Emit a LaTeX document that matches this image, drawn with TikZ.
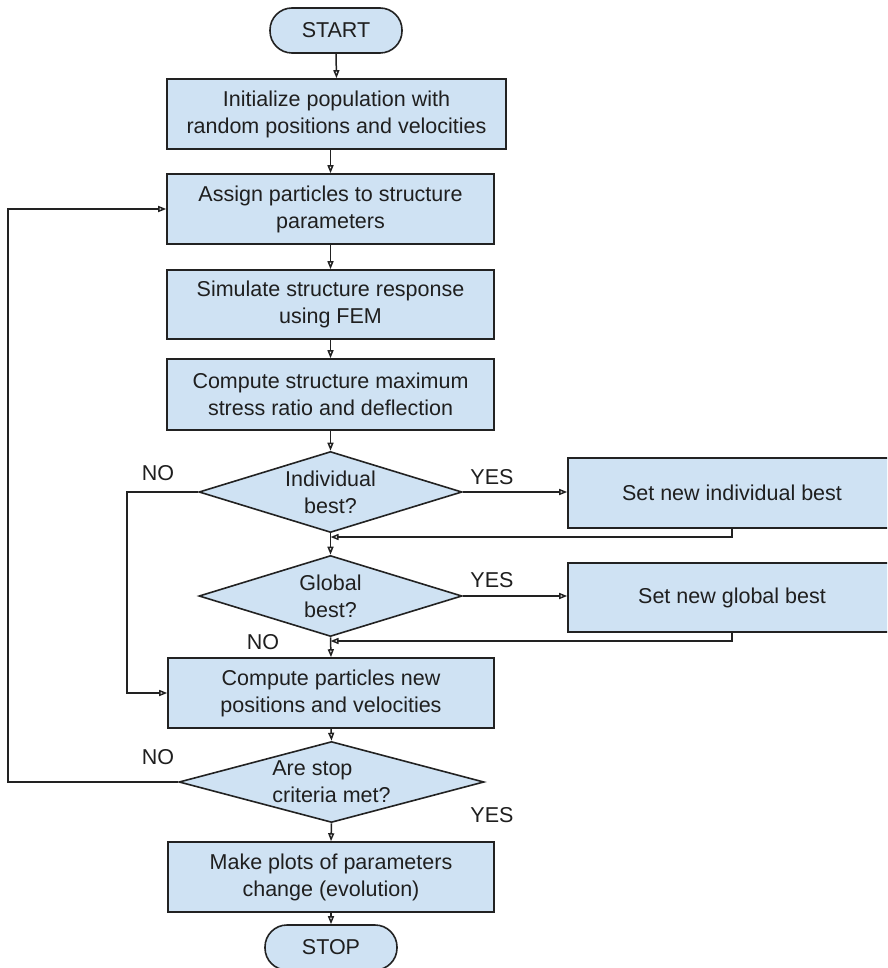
\documentclass[tikz,border=0pt]{standalone}
\usepackage{fontspec}
\setmainfont{Liberation Sans}
\usetikzlibrary{shapes.geometric,arrows.meta}
\definecolor{boxfill}{HTML}{CFE2F3}
\definecolor{linec}{HTML}{222222}
\begin{document}
\begin{tikzpicture}[x=1pt,y=-1pt,
  font=\fontsize{21.5}{27}\selectfont,
  every node/.style={text=black!88},
  proc/.style={draw=linec, fill=boxfill, line width=1.6pt, rectangle, minimum width=327pt, minimum height=70pt, align=center, inner sep=0pt},
  term/.style={draw=linec, fill=boxfill, line width=1.6pt, rectangle, rounded corners=22pt, minimum width=132pt, minimum height=45pt, inner sep=0pt},
  dec/.style={draw=linec, fill=boxfill, line width=1.6pt, diamond, inner sep=0pt, minimum width=263pt, minimum height=81pt},
  dtext/.style={align=center, inner sep=0pt},
  arr/.style={draw=linec, line width=1.5pt, -{Triangle[length=8pt,width=6pt,open]}},
  lbl/.style={inner sep=0pt}]
\clip (0,0) rectangle (887,968);
\fill[white] (0,0) rectangle (887,968);

\node[term] (start) at (336,30.5) {START};
\node[proc, minimum width=339pt] (b1) at (336.5,114) {Initialize population with\\random positions and velocities};
\node[proc] (b2) at (330.5,209) {Assign particles to structure\\parameters};
\node[proc, minimum height=69pt] (b3) at (330.5,304.5) {Simulate structure response\\using FEM};
\node[proc, minimum height=71pt] (b4) at (330.5,394.5) {Compute structure maximum\\stress ratio and deflection};
\node[dec, label={[dtext]center:Individual\\best?}] (d1) at (330.5,492) {};
\node[proc, minimum width=328pt] (s1) at (732,493) {Set new individual best};
\node[dec, label={[dtext]center:Global\\best?}] (d2) at (330.5,596) {};
\node[proc, minimum width=328pt, minimum height=69pt] (s2) at (732,597.5) {Set new global best};
\node[proc, minimum width=326pt] (b5) at (331,693) {Compute particles new\\positions and velocities};
\node[dec, minimum width=305pt, label={[dtext, align=left]center:Are stop\\criteria met?}] (d3) at (331.5,782) {};
\node[proc, minimum width=326pt] (b6) at (331,877) {Make plots of parameters\\change (evolution)};
\node[term] (stop) at (331,947.5) {STOP};

\coordinate (j1) at (330.5,537);
\coordinate (j2) at (330.5,641);
\coordinate (n1) at (127,492);
\coordinate (n3) at (8,782);

\draw[arr] (start.south) -- (b1.north);
\draw[arr] (b2.north |- b1.south) -- (b2.north);
\draw[arr] (b2.south) -- (b3.north);
\draw[arr] (b3.south) -- (b4.north);
\draw[arr] (b4.south) -- (d1.north);
\draw[arr] (d1.east) -- (d1.east -| s1.west);
\draw[arr] (s1.south) |- (j1);
\draw[arr] (d1.south) -- (d2.north);
\draw[arr] (d2.east) -- (d2.east -| s2.west);
\draw[arr] (s2.south) |- (j2);
\draw[arr] (d2.south) -- (b5.north);
\draw[arr] (d1.west) -- (n1) |- (b5.west);
\draw[arr] (b5.south) -- (d3.north);
\draw[arr] (d3.south) -- (b6.north);
\draw[arr] (d3.west) -- (n3) |- (b2.west);
\draw[arr] (b6.south) -- (stop.north);

\node[lbl] (no1) at (158,473) {NO};
\node[lbl] (yes1) at (492,477) {YES};
\node[lbl] (yes2) at (492,580) {YES};
\node[lbl] (no2) at (263,642) {NO};
\node[lbl] (no3) at (158,757) {NO};
\node[lbl] (yes3) at (492,815) {YES};
\end{tikzpicture}
\end{document}
